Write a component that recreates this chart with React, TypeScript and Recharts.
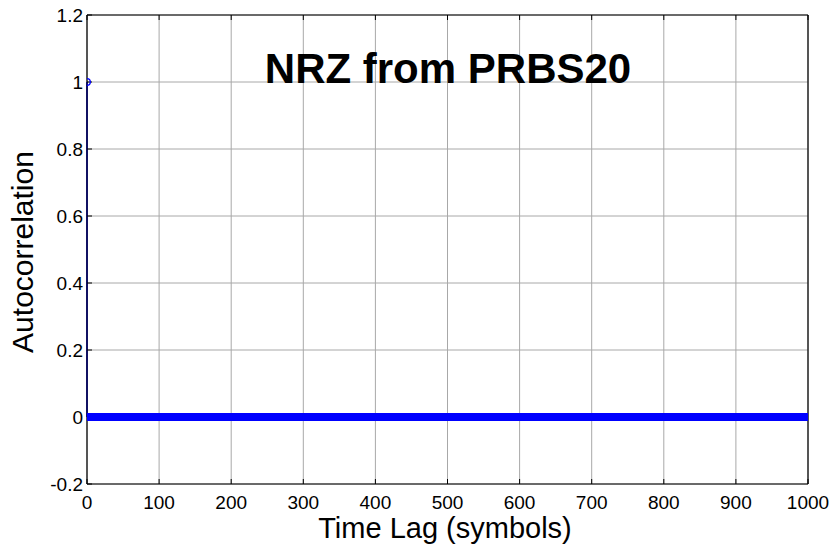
import React from "react";
import {
  ComposedChart,
  Scatter,
  XAxis,
  YAxis,
  CartesianGrid,
  ReferenceLine,
  ErrorBar,
} from "recharts";

// ---- data ----
const maxLag = 1000; // symbols
const peakValue = 1; // autocorrelation at lag 0
const sidelobeValue = 0; // autocorrelation at every other lag (reads as 0)
const xTicks = [0, 100, 200, 300, 400, 500, 600, 700, 800, 900, 1000];
const yTicks = [-0.2, 0, 0.2, 0.4, 0.6, 0.8, 1, 1.2];
const titleText = "NRZ from PRBS20";
const xLabelText = "Time Lag (symbols)";
const yLabelText = "Autocorrelation";

// integer lags 0..maxLag (x categories)
const lags: number[] = Array.from({ length: maxLag + 1 }, (_, i) => i);
const acfValues: number[] = lags.map((l) => (l === 0 ? peakValue : sidelobeValue));
// stem: from the value down to the 0 baseline (error bar [below, above])
const data = lags.map((lag, i) => ({ lag, acf: acfValues[i], stem: [acfValues[i], 0] }));

const FONT = "'Liberation Sans', Arial, Helvetica, sans-serif";
const W = 837;
const H = 545;
const M = { top: 14, right: 28, bottom: 60, left: 86 };

const fmtY = (v: number) => String(Math.round(v * 10) / 10);

const StemMarker = (props: any) => {
  const { cx, cy } = props;
  if (cx == null || cy == null) return null;
  return <circle cx={cx} cy={cy} r={3.3} fill="none" stroke="#0000ff" strokeWidth={1.3} />;
};

const NoTick = () => <g />;

export default function App() {
  const tickStyle = { fontSize: 19, fill: "#000", fontFamily: FONT };
  return (
    <div style={{ position: "absolute", left: 0, top: 0, width: W, height: H, background: "#fff" }}>
      <ComposedChart width={W} height={H} data={data} margin={M}>
        <CartesianGrid xAxisId="b" yAxisId="l" stroke="#a8a8a8" strokeWidth={1} />
        <XAxis
          xAxisId="b"
          dataKey="lag"
          type="number"
          domain={[0, maxLag]}
          ticks={xTicks}
          height={1}
          axisLine={{ stroke: "#000", strokeWidth: 1.2 }}
          tickLine={{ stroke: "#000" }}
          tickSize={-5}
          tickMargin={17}
          tick={tickStyle}
          interval={0}
          allowDataOverflow
        />
        <XAxis
          xAxisId="t"
          orientation="top"
          dataKey="lag"
          type="number"
          domain={[0, maxLag]}
          ticks={xTicks}
          height={1}
          axisLine={{ stroke: "#000", strokeWidth: 1.2 }}
          tickLine={{ stroke: "#000" }}
          tickSize={-5}
          tick={<NoTick />}
          interval={0}
        />
        <YAxis
          yAxisId="l"
          type="number"
          domain={[-0.2, 1.2]}
          ticks={yTicks}
          width={1}
          axisLine={{ stroke: "#000", strokeWidth: 1.2 }}
          tickLine={{ stroke: "#000" }}
          tickSize={-5}
          tickMargin={9}
          tick={tickStyle}
          tickFormatter={fmtY}
          interval={0}
          allowDataOverflow
        />
        <YAxis
          yAxisId="r"
          orientation="right"
          type="number"
          domain={[-0.2, 1.2]}
          ticks={yTicks}
          width={1}
          axisLine={{ stroke: "#000", strokeWidth: 1.2 }}
          tickLine={{ stroke: "#000" }}
          tickSize={-5}
          tick={<NoTick />}
          interval={0}
        />
        <ReferenceLine
          xAxisId="b"
          yAxisId="l"
          y={0}
          stroke="#000080"
          strokeWidth={1.5}
          ifOverflow="visible"
        />
        <Scatter
          xAxisId="b"
          yAxisId="l"
          dataKey="acf"
          shape={<StemMarker />}
          isAnimationActive={false}
        >
          <ErrorBar
            dataKey="stem"
            direction="y"
            width={0}
            stroke="#0000ff"
            strokeWidth={1.6}
            isAnimationActive={false}
          />
        </Scatter>
      </ComposedChart>
      <svg
        width={W}
        height={H}
        style={{ position: "absolute", left: 0, top: 0, pointerEvents: "none" }}
      >
        <text
          x={448}
          y={83}
          textAnchor="middle"
          fontFamily={FONT}
          fontWeight="bold"
          fontSize={42}
          fill="#000"
        >
          {titleText}
        </text>
        <text x={445} y={538} textAnchor="middle" fontFamily={FONT} fontSize={29} fill="#000">
          {xLabelText}
        </text>
        <text
          x={33}
          y={252}
          textAnchor="middle"
          fontFamily={FONT}
          fontSize={30}
          fill="#000"
          transform="rotate(-90 33 252)"
        >
          {yLabelText}
        </text>
      </svg>
    </div>
  );
}
